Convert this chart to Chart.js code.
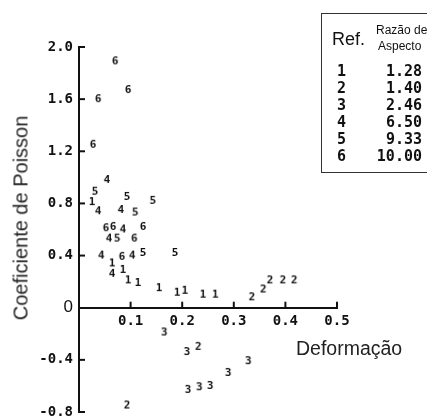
<!DOCTYPE html>
<html>
<head>
<meta charset="utf-8">
<script src="https://cdn.jsdelivr.net/npm/chart.js@4.4.0/dist/chart.umd.min.js"></script>
<style>
    html, body { margin: 0; padding: 0; background: #fff; }
    #wrap { position: relative; width: 427px; height: 418px; overflow: hidden; }
    #chart { position: absolute; left: 0; top: 0; }
    .ytitle {
        position: absolute; left: 21px; top: 218px;
        transform: translate(-50%, -50%) rotate(-90deg);
        font: 20px 'Liberation Sans', Arial, sans-serif; color: #222; white-space: nowrap;
    }
    .xtitle {
        position: absolute; left: 296px; top: 348px; transform: translateY(-50%);
        font: 19.5px 'Liberation Sans', Arial, sans-serif; color: #222; white-space: nowrap;
    }
    #refBox {
        position: absolute; left: 321px; top: 13px; width: 140px; height: 160px;
        border: 1.5px solid #333; box-sizing: border-box;
    }
    #refBox div { position: absolute; white-space: nowrap; line-height: 1; }
    .hdr { font-family: 'Liberation Sans', Arial, sans-serif; color: #111; }
    .num { font: bold 15px 'DejaVu Sans Mono', monospace; color: #111; transform: translateY(-50%); }
</style>
</head>
<body>
<div id="wrap">
    <canvas id="chart" width="427" height="418"></canvas>
    <div class="ytitle">Coeficiente de Poisson</div>
    <div class="xtitle">Deformação</div>
    <div id="refBox"></div>
</div>
<script>
// Legend table
const refs = ['1', '2', '3', '4', '5', '6'];
const aspectRatios = ['1.28', '1.40', '2.46', '6.50', '9.33', '10.00'];

// Axis ticks
const xTicks = [0.1, 0.2, 0.3, 0.4, 0.5];
const xTickLabels = ['0.1', '0.2', '0.3', '0.4', '0.5'];
const yTicks = [-0.8, -0.4, 0, 0.4, 0.8, 1.2, 1.6, 2.0];
const yTickLabels = ['-0.8', '-0.4', '0', '0.4', '0.8', '1.2', '1.6', '2.0'];

// Deformação (x) / Coeficiente de Poisson (y) for each reference
const strain1 = [0.025, 0.064, 0.085, 0.095, 0.114, 0.155, 0.190, 0.205, 0.240, 0.264];
const poisson1 = [0.81, 0.34, 0.29, 0.21, 0.19, 0.15, 0.115, 0.13, 0.10, 0.10];
const strain2 = [0.335, 0.357, 0.370, 0.395, 0.417, 0.231, 0.093];
const poisson2 = [0.08, 0.14, 0.21, 0.21, 0.21, -0.30, -0.75];
const strain3 = [0.165, 0.209, 0.211, 0.233, 0.254, 0.289, 0.328];
const poisson3 = [-0.19, -0.34, -0.63, -0.61, -0.60, -0.50, -0.41];
const strain4 = [0.054, 0.037, 0.081, 0.085, 0.058, 0.043, 0.103, 0.064];
const poisson4 = [0.98, 0.74, 0.75, 0.60, 0.53, 0.40, 0.40, 0.26];
const strain5 = [0.031, 0.093, 0.143, 0.109, 0.074, 0.124, 0.186];
const poisson5 = [0.89, 0.85, 0.82, 0.73, 0.53, 0.42, 0.42];
const strain6 = [0.070, 0.095, 0.037, 0.027, 0.052, 0.066, 0.124, 0.107, 0.083];
const poisson6 = [1.89, 1.67, 1.60, 1.25, 0.61, 0.62, 0.62, 0.53, 0.39];

const strains = [strain1, strain2, strain3, strain4, strain5, strain6];
const poissons = [poisson1, poisson2, poisson3, poisson4, poisson5, poisson6];

// build the Ref. table
const box = document.getElementById('refBox');
box.innerHTML =
    '<div class="hdr" style="left:10px;top:16px;font-size:18px">Ref.</div>' +
    '<div class="hdr" style="left:54px;top:10px;font-size:12px">Razão de</div>' +
    '<div class="hdr" style="left:56px;top:26px;font-size:12px">Aspecto</div>';
refs.forEach((r, i) => {
    const top = 57 + i * 17;
    box.innerHTML += `<div class="num" style="left:15px;top:${top}px">${r}</div>` +
        `<div class="num" style="right:38px;top:${top}px">${aspectRatios[i]}</div>`;
});

// each point is drawn as its reference number
function digitMarker(d) {
    const c = document.createElement('canvas');
    c.width = 10; c.height = 12;
    const g = c.getContext('2d');
    g.font = 'bold 11px "DejaVu Sans Mono"';
    g.fillStyle = '#111';
    g.textAlign = 'center';
    g.textBaseline = 'middle';
    g.fillText(d, 5, 6.5);
    return c;
}

// inward tick marks on both axes
const innerTicks = {
    id: 'innerTicks',
    afterDraw(chart) {
        const { ctx, scales: { x, y } } = chart;
        const x0 = x.getPixelForValue(0);
        const y0 = y.getPixelForValue(0);
        ctx.save();
        ctx.strokeStyle = '#111';
        ctx.lineWidth = 2;
        yTicks.forEach(v => {
            if (v === 0) return;
            const py = y.getPixelForValue(v);
            ctx.beginPath(); ctx.moveTo(x0, py); ctx.lineTo(x0 + 6, py); ctx.stroke();
        });
        xTicks.forEach(v => {
            const px = x.getPixelForValue(v);
            ctx.beginPath(); ctx.moveTo(px, y0); ctx.lineTo(px, y0 - 6); ctx.stroke();
        });
        ctx.restore();
    }
};

const tickFont = { family: "'DejaVu Sans Mono', monospace", size: 14, weight: 'bold' };

new Chart(document.getElementById('chart').getContext('2d'), {
    type: 'scatter',
    data: {
        datasets: refs.map((r, i) => ({
            label: r,
            data: strains[i].map((s, j) => ({ x: s, y: poissons[i][j] })),
            pointStyle: digitMarker(r),
            pointRadius: 5
        }))
    },
    options: {
        responsive: false,
        animation: false,
        layout: { padding: { left: 0, top: 47, right: 90, bottom: 5 } },
        scales: {
            x: {
                type: 'linear',
                position: { y: 0 },
                min: 0, max: 0.5,
                afterBuildTicks: (s) => { s.ticks = xTicks.map(v => ({ value: v })); },
                afterFit: (s) => { s.height = 0; s.paddingLeft = 0; s.paddingRight = 0; },
                grid: { drawOnChartArea: false, drawTicks: false },
                border: { color: '#111', width: 2 },
                ticks: {
                    padding: 5,
                    color: '#111',
                    font: tickFont,
                    callback: (v, i) => xTickLabels[i]
                }
            },
            y: {
                type: 'linear',
                position: 'left',
                min: -0.8, max: 2.0,
                afterBuildTicks: (s) => { s.ticks = yTicks.map(v => ({ value: v })); },
                afterFit: (s) => { s.width = 79; s.paddingTop = 0; s.paddingBottom = 0; },
                grid: { drawOnChartArea: false, drawTicks: false },
                border: { color: '#111', width: 2 },
                ticks: {
                    padding: 6,
                    color: '#111',
                    font: (ctx) => ctx.tick && ctx.tick.value === 0
                        ? { family: "'Liberation Sans', Arial, sans-serif", size: 17, weight: 'normal' }
                        : tickFont,
                    callback: (v, i) => yTickLabels[i]
                }
            }
        },
        plugins: {
            legend: { display: false },
            tooltip: { enabled: false }
        }
    },
    plugins: [innerTicks]
});
</script>
</body>
</html>
